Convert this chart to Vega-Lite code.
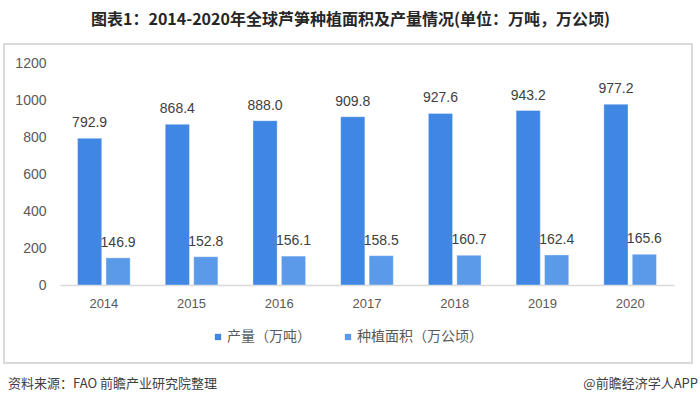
{
  "$schema": "https://vega.github.io/schema/vega-lite/v6.json",
  "padding": {"left": 3, "right": 3, "top": 12, "bottom": 0},
  "background": "white",
  "title": {
    "text": "图表1：2014-2020年全球芦笋种植面积及产量情况(单位：万吨，万公顷)",
    "anchor": "middle",
    "font": "Noto Sans CJK SC",
    "fontSize": 16,
    "fontWeight": "bold",
    "color": "#262626",
    "offset": 15
  },
  "spacing": 10,
  "datasets": {
    "bars": [
      {"year": "2014", "series": "产量（万吨）", "value": 792.9},
      {"year": "2014", "series": "种植面积（万公顷）", "value": 146.9},
      {"year": "2015", "series": "产量（万吨）", "value": 868.4},
      {"year": "2015", "series": "种植面积（万公顷）", "value": 152.8},
      {"year": "2016", "series": "产量（万吨）", "value": 888.0},
      {"year": "2016", "series": "种植面积（万公顷）", "value": 156.1},
      {"year": "2017", "series": "产量（万吨）", "value": 909.8},
      {"year": "2017", "series": "种植面积（万公顷）", "value": 158.5},
      {"year": "2018", "series": "产量（万吨）", "value": 927.6},
      {"year": "2018", "series": "种植面积（万公顷）", "value": 160.7},
      {"year": "2019", "series": "产量（万吨）", "value": 943.2},
      {"year": "2019", "series": "种植面积（万公顷）", "value": 162.4},
      {"year": "2020", "series": "产量（万吨）", "value": 977.2},
      {"year": "2020", "series": "种植面积（万公顷）", "value": 165.6}
    ],
    "footer": [
      {"pos": 0, "text": "资料来源：FAO 前瞻产业研究院整理"},
      {"pos": 1, "text": "@前瞻经济学人APP"}
    ]
  },
  "vconcat": [
    {
      "width": 688,
      "height": 319,
      "view": {"stroke": "#d9d9d9", "strokeWidth": 2, "fill": "white"},
      "data": {"name": "bars"},
      "encoding": {
        "x": {
          "field": "year",
          "type": "nominal",
          "scale": {"range": [56, 670], "paddingInner": 0.4, "paddingOuter": 0.2},
          "axis": {
            "title": null,
            "orient": "bottom",
            "offset": -78,
            "domain": true,
            "domainColor": "#d9d9d9",
            "domainWidth": 1.5,
            "ticks": false,
            "labelPadding": 12,
            "labelFont": "Liberation Sans",
            "labelFontSize": 13,
            "labelColor": "#595959",
            "labelAngle": 0,
            "grid": false
          }
        },
        "xOffset": {
          "field": "series",
          "type": "nominal",
          "scale": {"paddingInner": 0.15, "paddingOuter": 0},
          "sort": ["产量（万吨）", "种植面积（万公顷）"]
        },
        "y": {
          "field": "value",
          "type": "quantitative",
          "scale": {"domain": [0, 1200], "range": [241, 19], "nice": false},
          "axis": {
            "title": null,
            "orient": "left",
            "offset": -56,
            "values": [0, 200, 400, 600, 800, 1000, 1200],
            "format": "d",
            "domain": false,
            "ticks": false,
            "grid": false,
            "labelPadding": 14,
            "labelFont": "Liberation Sans",
            "labelFontSize": 14,
            "labelColor": "#595959"
          }
        }
      },
      "layer": [
        {
          "mark": {"type": "bar", "stroke": "#ffffff", "strokeOpacity": 0.35, "strokeWidth": 1},
          "encoding": {
            "color": {
              "field": "series",
              "type": "nominal",
              "scale": {
                "domain": ["产量（万吨）", "种植面积（万公顷）"],
                "range": ["#3F87E3", "#5A9AE8"]
              },
              "legend": {
                "title": null,
                "orient": "none",
                "legendX": 207,
                "legendY": 286,
                "direction": "horizontal",
                "symbolType": "square",
                "symbolSize": 40,
                "symbolStrokeWidth": 0,
                "labelFont": "Noto Sans CJK SC",
                "labelFontSize": 14,
                "labelColor": "#595959",
                "labelOffset": 2,
                "columnPadding": 30
              }
            }
          }
        },
        {
          "mark": {
            "type": "text",
            "baseline": "bottom",
            "dy": -8,
            "font": "Liberation Sans",
            "fontSize": 14,
            "color": "#404040"
          },
          "encoding": {
            "text": {"field": "value", "type": "quantitative", "format": ".1f"}
          }
        }
      ]
    },
    {
      "width": 694,
      "height": 20,
      "view": {"stroke": null},
      "data": {"name": "footer"},
      "encoding": {
        "x": {
          "field": "pos",
          "type": "quantitative",
          "scale": {"domain": [0, 1]},
          "axis": null
        },
        "text": {"field": "text", "type": "nominal"}
      },
      "layer": [
        {
          "transform": [{"filter": "datum.pos == 0"}],
          "mark": {
            "type": "text",
            "align": "left",
            "baseline": "middle",
            "dx": 4,
            "font": "Noto Sans CJK SC",
            "fontSize": 13,
            "color": "#404040"
          }
        },
        {
          "transform": [{"filter": "datum.pos == 1"}],
          "mark": {
            "type": "text",
            "align": "right",
            "baseline": "middle",
            "font": "Noto Sans CJK SC",
            "fontSize": 13,
            "color": "#404040"
          }
        }
      ]
    }
  ]
}
